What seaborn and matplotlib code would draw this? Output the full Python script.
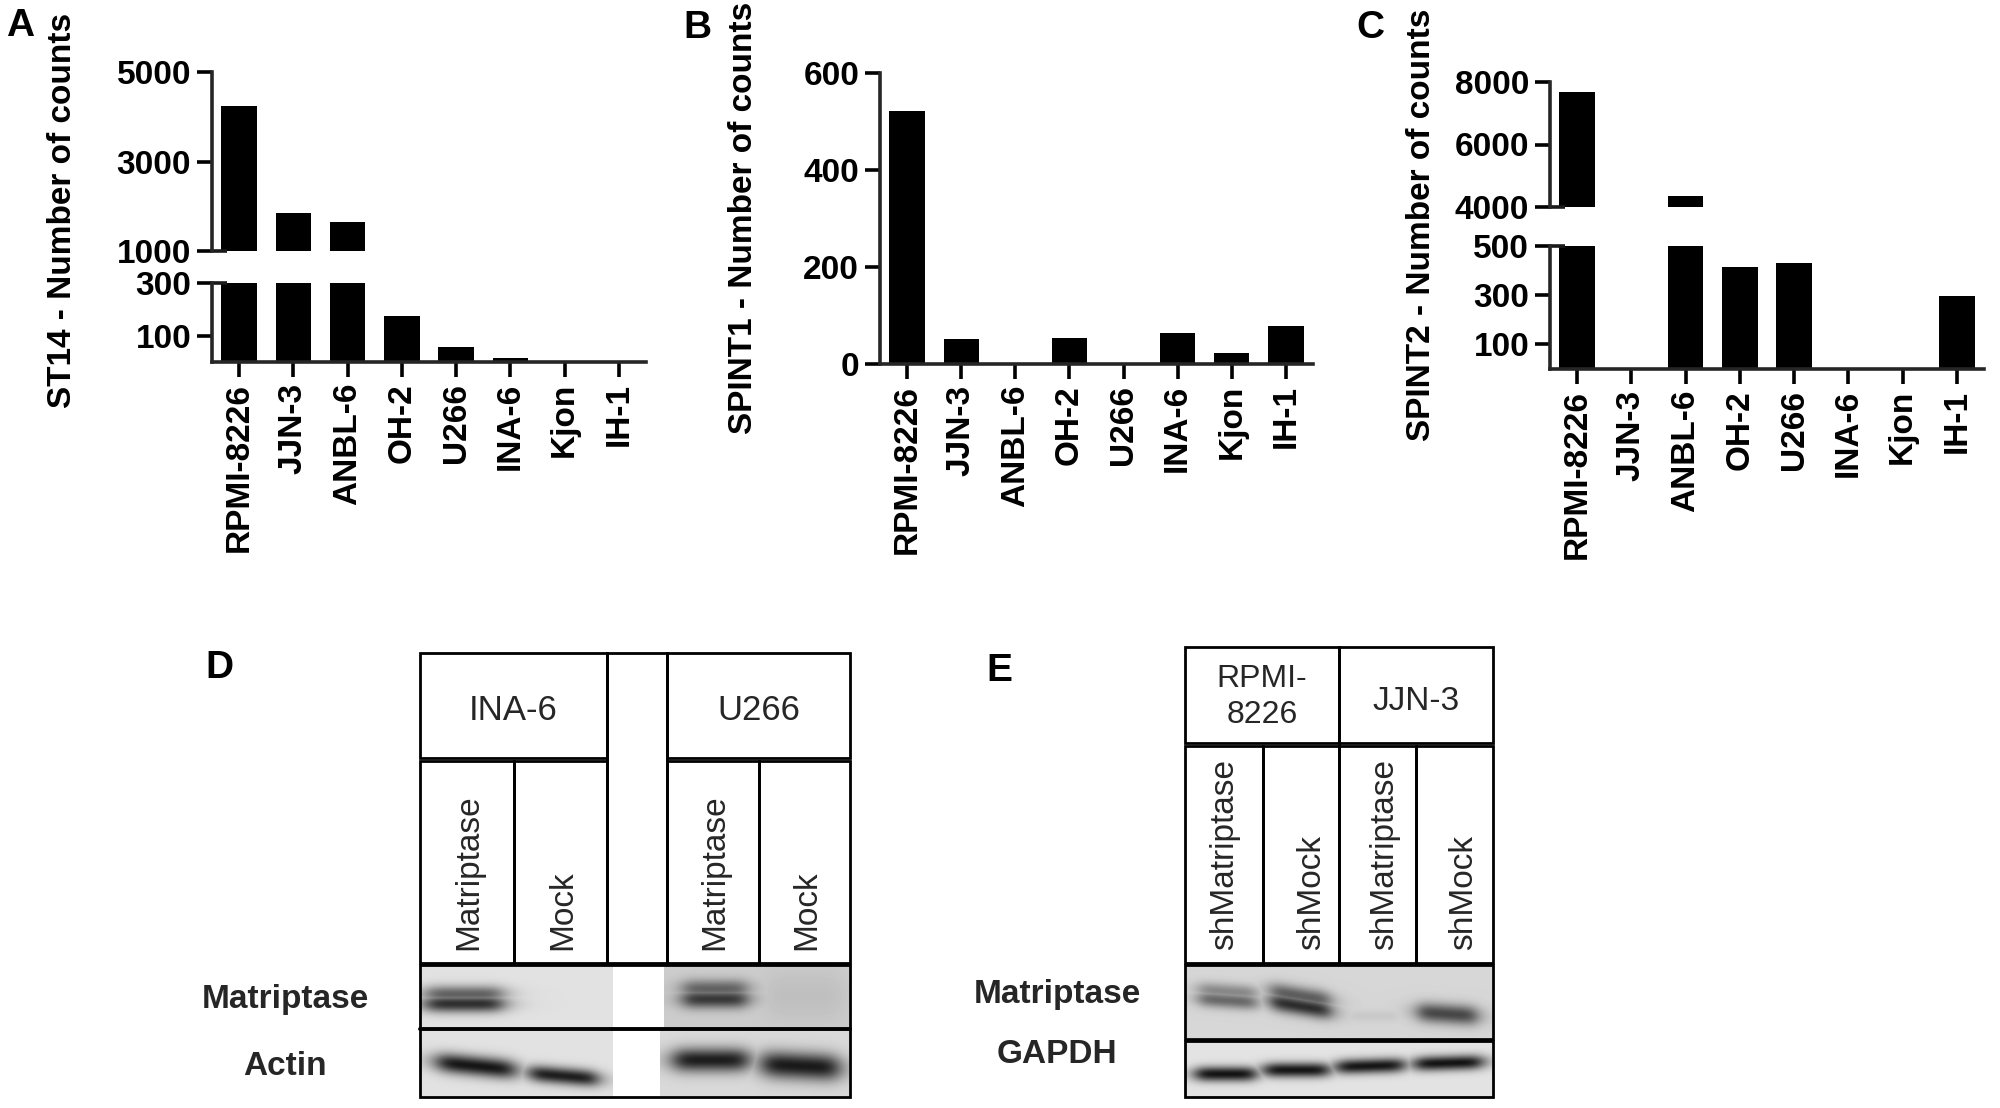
import numpy as np
import pandas as pd
import matplotlib
matplotlib.use("Agg")
import matplotlib.pyplot as plt
import seaborn as sns
from matplotlib.patches import Rectangle

# ---------------- data ----------------
cell_lines = ["RPMI-8226", "JJN-3", "ANBL-6", "OH-2", "U266", "INA-6", "Kjon", "IH-1"]
st14 = [4230, 1840, 1650, 173, 57, 14, 3, 2]
spint1 = [521, 51, 1, 53, 2, 64, 23, 78]
spint2 = [7680, 0, 4360, 416, 429, 0, 0, 297]

st14_upper_ticks = [1000, 3000, 5000]
st14_lower_ticks = [100, 300]
spint1_ticks = [0, 200, 400, 600]
spint2_upper_ticks = [4000, 6000, 8000]
spint2_lower_ticks = [100, 300, 500]

# western blots: band darkness per lane (0 = none, 1 = saturated)
d_groups = ["INA-6", "U266"]
d_lanes = ["Matriptase", "Mock", "Matriptase", "Mock"]
d_matriptase = [0.85, 0.0, 0.78, 0.07]
d_actin = [0.97, 0.93, 0.93, 0.95]

e_groups = ["RPMI-\n8226", "JJN-3"]
e_lanes = ["shMatriptase", "shMock", "shMatriptase", "shMock"]
e_matriptase = [0.55, 0.85, 0.07, 0.72]
e_gapdh = [0.98, 0.97, 0.97, 0.98]

# ---------------- setup ----------------
sns.set_theme(style="ticks")
plt.rcParams['font.family'] = ['Liberation Sans', 'DejaVu Sans']
W, H = 2000, 1108
fig = plt.figure(figsize=(20, 11.08), dpi=100)
fig.patch.set_facecolor('white')

ov = fig.add_axes([0, 0, 1, 1])
ov.set_xlim(0, W)
ov.set_ylim(H, 0)
ov.axis('off')


def add_ax(x0, y0, x1, y1):
    return fig.add_axes([x0 / W, 1 - y1 / H, (x1 - x0) / W, (y1 - y0) / H])


LW = 2.6
TICK_FS = 24
XL_FS = 24


def bars(ax, values, ylim, yticks, bottom=True, brk_low=False, brk_high=False):
    df = pd.DataFrame({"line": cell_lines, "val": values})
    sns.barplot(data=df, x="line", y="val", color="black", saturation=1,
                width=0.65, linewidth=0, ax=ax)
    ax.set_xlim(-0.5, 7.5)
    ax.set_ylim(*ylim)
    ax.set_yticks(yticks)
    ax.set_yticklabels([str(t) for t in yticks], fontsize=TICK_FS, fontweight='bold')
    ax.set_facecolor('none')
    for s in ['top', 'right']:
        ax.spines[s].set_visible(False)
    ax.spines['left'].set_linewidth(LW)
    ax.tick_params(axis='y', length=11, width=LW, pad=4, colors='black')
    if bottom:
        ax.spines['bottom'].set_linewidth(LW)
        ax.set_xticks(range(len(cell_lines)))
        ax.set_xticklabels(cell_lines, rotation=90, fontsize=XL_FS, fontweight='bold')
        ax.tick_params(axis='x', length=11, width=LW, pad=4, colors='black')
    else:
        ax.spines['bottom'].set_visible(False)
        ax.tick_params(axis='x', bottom=False, labelbottom=False)
    ax.set_xlabel('')
    ax.set_ylabel('')
    tr = ax.get_yaxis_transform()
    if brk_low:
        ax.plot([0, 0.035], [ylim[0], ylim[0]], transform=tr, color='k', lw=LW,
                clip_on=False, solid_capstyle='butt')
    if brk_high:
        ax.plot([0, 0.035], [ylim[1], ylim[1]], transform=tr, color='k', lw=LW,
                clip_on=False, solid_capstyle='butt')


# Panel A (broken axis)
axA1 = add_ax(212, 72, 646, 251)
bars(axA1, st14, (1000, 5000), st14_upper_ticks, bottom=False, brk_low=True)
axA2 = add_ax(212, 283, 646, 362)
bars(axA2, st14, (0, 300), st14_lower_ticks, bottom=True, brk_high=True)

# Panel B
axB = add_ax(880, 73, 1313, 364)
bars(axB, spint1, (0, 600), spint1_ticks, bottom=True)

# Panel C (broken axis)
axC1 = add_ax(1550, 82, 1984, 207)
bars(axC1, spint2, (4000, 8000), spint2_upper_ticks, bottom=False, brk_low=True)
axC2 = add_ax(1550, 246, 1984, 369)
bars(axC2, spint2, (0, 500), spint2_lower_ticks, bottom=True, brk_high=True)

# axis titles
for x, y, t in [(63, 210, "ST14 - Number of counts"),
                (743, 218, "SPINT1 - Number of counts"),
                (1421, 225, "SPINT2 - Number of counts")]:
    ov.text(x, y, t, rotation=90, ha='center', va='center', fontsize=24,
            fontweight='bold', color='black')

# panel letters
for x, y, t in [(6, 36, "A"), (683, 38, "B"), (1356, 38, "C"), (205, 678, "D"), (986, 681, "E")]:
    ov.text(x, y, t, ha='left', va='baseline', fontsize=28, fontweight='bold', color='black')


# ---------------- western blot helpers ----------------
def box(x0, y0, x1, y1, lw=2.0):
    ov.add_patch(Rectangle((x0, y0), x1 - x0, y1 - y0, fill=False, ec='black', lw=lw, zorder=5))


def blot(x0, y0, x1, y1, bg, bands):
    """bands: list of (cx, cy, w, h, tilt, doublet, darkness)"""
    xs = np.arange(int(x0), int(x1)) + 0.5
    ys = np.arange(int(y0), int(y1)) + 0.5
    X, Y = np.meshgrid(xs, ys)
    dark = np.zeros(X.shape)
    for cx, cy, w, h, tilt, dbl, d in bands:
        if d <= 0:
            continue
        hx = 1.0 / (1.0 + (np.abs(X - cx) / (0.5 * w)) ** 6)
        yc = cy + tilt * (X - cx) / (0.5 * w)
        if dbl:
            sub = [(-h * 0.17, 0.72), (h * 0.17, 1.0)]
            hh = h * 0.62
        else:
            sub = [(0.0, 1.0)]
            hh = h
        for off, k in sub:
            vy = np.exp(-(np.abs(Y - yc - off) / (0.5 * hh)) ** 2.0)
            dark = np.maximum(dark, d * k * hx * vy)
    img = bg - (bg - 0.06) * dark
    ov.imshow(img, cmap='gray', vmin=0, vmax=1, extent=(x0, x1, y1, y0),
              origin='upper', aspect='auto', interpolation='bilinear', zorder=2)


# ---------------- Panel D ----------------
dcols = [420, 514, 607, 667, 759, 850]
d_lane_x = [(dcols[0] + dcols[1]) / 2, (dcols[1] + dcols[2]) / 2,
            (dcols[3] + dcols[4]) / 2, (dcols[4] + dcols[5]) / 2]
box(dcols[0], 653, dcols[2], 758)
box(dcols[3], 653, dcols[5], 758)
box(dcols[2], 653, dcols[3], 963)
box(dcols[0], 761, dcols[1], 963)
box(dcols[1], 761, dcols[2], 963)
box(dcols[3], 761, dcols[4], 963)
box(dcols[4], 761, dcols[5], 963)
ov.text((dcols[0] + dcols[2]) / 2, 720, d_groups[0], ha='center', va='baseline', fontsize=25)
ov.text((dcols[3] + dcols[5]) / 2, 720, d_groups[1], ha='center', va='baseline', fontsize=25)
for x, t in zip(d_lane_x, d_lanes):
    ov.text(x + 2, 950, t, rotation=90, ha='center', va='bottom', fontsize=24)

# blot rows (layout of bands: x offset, y centre, width, height, tilt, doublet)
d_mat_geo = [(-3, 999, 80, 28, 0, True), (0, 999, 70, 26, 0, False),
             (2, 994, 66, 30, 0, True), (0, 996, 78, 52, 0, False)]
d_act_geo = [(9, 1066, 80, 20, 4, False), (3, 1076, 70, 17, 3, False),
             (-2, 1060, 77, 24, 0, False), (-4, 1066, 79, 27, 2, False)]


def bands_for(lane_x, geo, vals, idx):
    return [(lane_x[i] + geo[i][0], geo[i][1], geo[i][2], geo[i][3], geo[i][4], geo[i][5], vals[i])
            for i in idx]


blot(421, 966, 613, 1027, 0.885, bands_for(d_lane_x, d_mat_geo, d_matriptase, [0, 1]))
blot(664, 966, 849, 1027, 0.80, bands_for(d_lane_x, d_mat_geo, d_matriptase, [2, 3]))
blot(421, 1030, 613, 1096, 0.885, bands_for(d_lane_x, d_act_geo, d_actin, [0, 1]))
blot(660, 1030, 849, 1096, 0.85, bands_for(d_lane_x, d_act_geo, d_actin, [2, 3]))
box(420, 965, 850, 1097)
ov.plot([420, 850], [1028.5, 1028.5], color='black', lw=2.8, zorder=6)
ov.text(285, 1008, "Matriptase", ha='center', va='baseline', fontsize=24, fontweight='bold')
ov.text(285, 1075, "Actin", ha='center', va='baseline', fontsize=24, fontweight='bold')

# ---------------- Panel E ----------------
ecols = [1185, 1262.5, 1338.6, 1416, 1493]
e_lane_x = [(ecols[i] + ecols[i + 1]) / 2 for i in range(4)]
box(ecols[0], 647, ecols[2], 743)
box(ecols[2], 647, ecols[4], 743)
for i in range(4):
    box(ecols[i], 746, ecols[i + 1], 963)
ov.text((ecols[0] + ecols[2]) / 2, 697, e_groups[0], ha='center', va='center',
        fontsize=23, linespacing=1.3, multialignment='center')
ov.text((ecols[2] + ecols[4]) / 2, 710, e_groups[1], ha='center', va='baseline', fontsize=24)
e_lab_dx = [1, 11, 7, 9]
for i, t in enumerate(e_lanes):
    ov.text(e_lane_x[i] + e_lab_dx[i], 950, t, rotation=90, ha='center', va='bottom', fontsize=24)

e_mat_geo = [(4, 996, 60, 26, 2, True), (0, 1001, 62, 30, 5, True),
             (-4, 1016, 53, 12, 0, False), (-7, 1014, 61, 20, 2, False)]
e_g_geo = [(2, 1074, 62, 15, 0, False), (-4, 1070, 67, 15, 0, False),
           (-7, 1066, 70, 15, -1, False), (-6, 1063, 70, 15, -1, False)]
blot(1186, 966, 1492, 1038, 0.84, bands_for(e_lane_x, e_mat_geo, e_matriptase, range(4)))
blot(1186, 1042, 1492, 1097, 0.89, bands_for(e_lane_x, e_g_geo, e_gapdh, range(4)))
box(1185, 965, 1493, 1039)
box(1185, 1041, 1493, 1097)
ov.text(1057, 1003, "Matriptase", ha='center', va='baseline', fontsize=24, fontweight='bold')
ov.text(1057, 1063, "GAPDH", ha='center', va='baseline', fontsize=24, fontweight='bold')

ov.set_xlim(0, W)
ov.set_ylim(H, 0)

fig.savefig("out.png", dpi=100, facecolor='white')
